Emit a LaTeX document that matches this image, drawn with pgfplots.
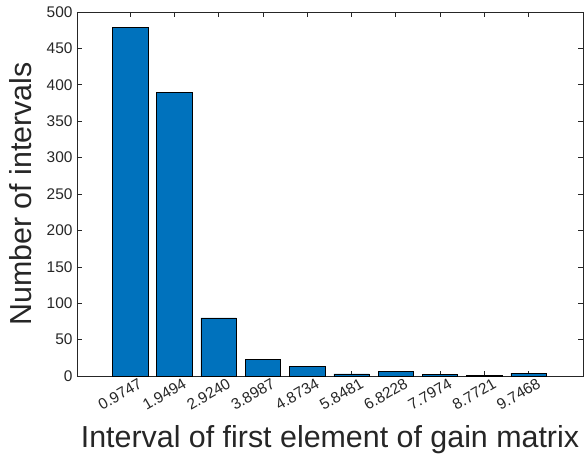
\documentclass[border=0pt]{standalone}
\usepackage{pgfplots}
\pgfplotsset{compat=1.18}
\usepackage{fontspec}
\setmainfont{Liberation Sans}
\definecolor{mblue}{RGB}{0,114,189}
\definecolor{axgray}{RGB}{38,38,38}
\begin{document}
\begin{tikzpicture}
\begin{axis}[
  scale only axis,
  width=506bp, height=364bp,
  xmin=-0.2, xmax=11.23,
  ymin=0, ymax=500,
  xtick={1,...,10},
  xticklabels={0.9747,1.9494,2.9240,3.8987,4.8734,5.8481,6.8228,7.7974,8.7721,9.7468},
  ytick={0,50,...,500},
  tick align=inside,
  major tick length=5bp,
  axis line style={axgray, line width=0.6pt},
  tick style={axgray, line width=0.6pt},
  /pgf/number format/assume math mode=true,
  tick label style={font=\fontsize{15.5}{18}\selectfont, text=axgray},
  xticklabel style={rotate=30, anchor=north east, inner sep=1pt, yshift=-4bp, xshift=7bp},
  yticklabel style={xshift=-1bp},
  xlabel={Interval of first element of gain matrix},
  ylabel={Number of intervals},
  label style={font=\fontsize{30.5}{34}\selectfont, text=axgray},
  xlabel style={at={(axis description cs:0.5,0)}, anchor=center, yshift=-64bp},
  ylabel style={at={(axis description cs:0,0.5)}, anchor=center, rotate=0, yshift=56bp},
]
\addplot[ybar, bar width=0.8, fill=mblue, draw=black, line width=0.5pt] coordinates {
(1,479) (2,390) (3,80) (4,23) (5,13) (6,3) (7,6) (8,2) (9,1) (10,4)
};
\end{axis}
\pgfresetboundingbox
\path ([xshift=-77bp,yshift=-90bp]current axis.south west) rectangle ([xshift=4bp,yshift=12bp]current axis.north east);
\end{tikzpicture}
\end{document}
